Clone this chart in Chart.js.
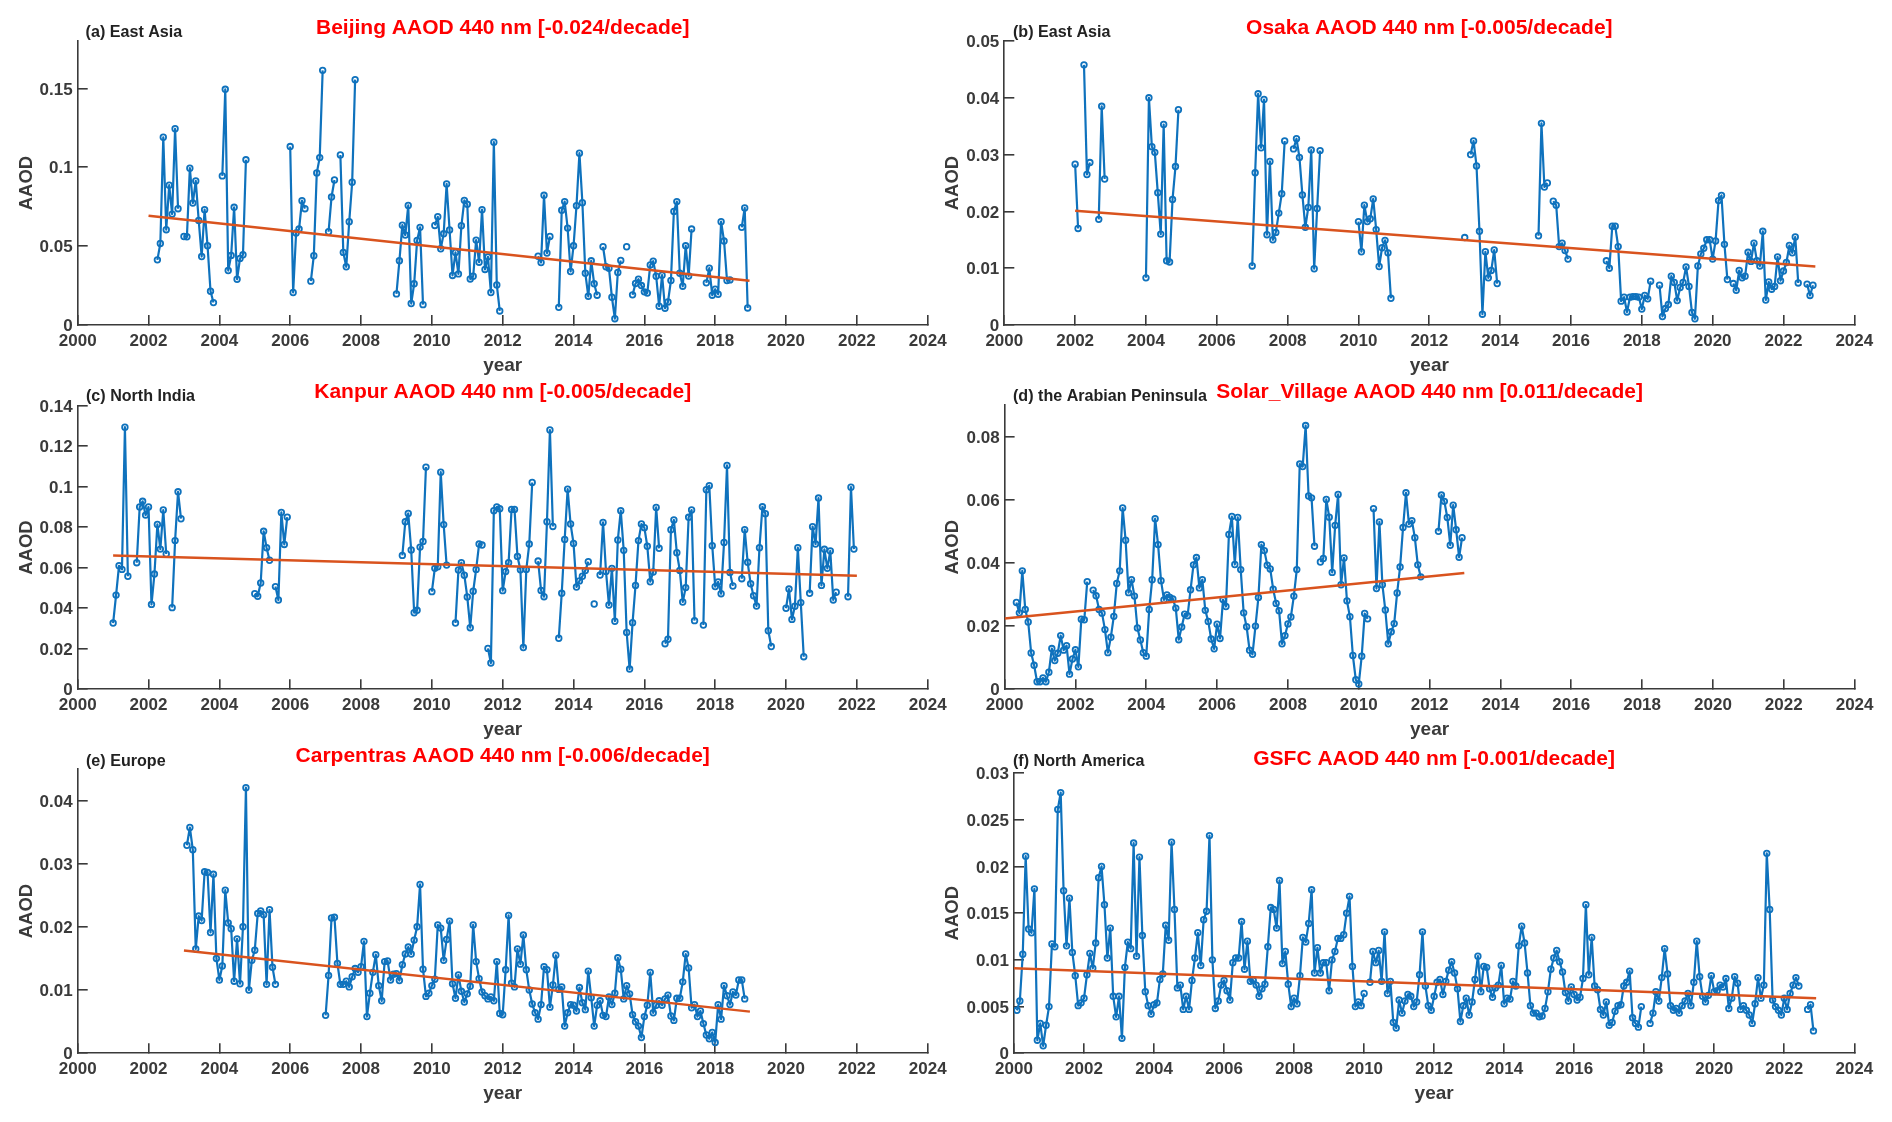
<!DOCTYPE html>
<html>
<head>
<meta charset="utf-8">
<title>AAOD 440 nm trends</title>
<script src="https://cdn.jsdelivr.net/npm/chart.js@4"></script>
<style>
  html, body { margin: 0; padding: 0; background: #fff; }
  canvas { position: absolute; }
</style>
</head>
<body>
<script>
/* monthly AAOD, one row per year, January first, null = no data */
const beijingStart = 2002;
const beijingValues = [
  null, null, null, .0413, .0517, .119, .0604, .0886, .0703, .1244, .0737, null,
  .0561, .0559, .0994, .0773, .0913, .0663, .0434, .0731, .0502, .0214, .0142, null,
  null, .0945, .1494, .0345, .0441, .0746, .029, .0422, .0445, .1047, null, null,
  null, null, null, null, null, null, null, null, null, null, null, null,
  .1131, .0206, .0583, .0608, .0788, .0737, null, .0278, .0439, .0964, .1061, .1614,
  null, .0591, .0811, .0919, null, .1078, .046, .0369, .0655, .0905, .1555, null,
  null, null, null, null, null, null, null, null, null, null, null, null,
  .0197, .0407, .0633, .057, .0758, .0136, .0261, .0536, .0619, .0129, null, null,
  null, .0631, .0686, .0483, .0578, .0894, .0602, .0314, .046, .0324, .0629, .079,
  .0765, .0292, .0309, .0538, .0398, .0731, .0352, .0432, .0206, .1159, .0254, .0089,
  null, null, null, null, null, null, null, null, null, null, null, null,
  .0436, .0396, .0822, .0456, .0561, null, null, .0112, .0727, .0782, .0614, .0339,
  .0502, .0756, .1089, .0775, .0328, .0182, .0407, .0261, .0189, null, .0496, .0369,
  .036, .0176, .004, .0333, .0409, null, .0496, null, .0191, .0263, .029, .025,
  .021, .0203, .0381, .0405, .0309, .0119, .0316, .0106, .0146, .0282, .072, .0782,
  .0328, .0246, .0502, .0311, .0608, null, null, null, null, .0267, .036, .0189,
  .0227, .0195, .0655, .0532, .0282, .0286, null, null, null, .0619, .0742, .0108
];
const beijingTrendX = [2002, 2018.97];
const beijingTrendY = [.0692, .028];
const beijingTicks = [0, 0.05, 0.1, 0.15];

const osakaStart = 2002;
const osakaValues = [
  .0283, .017, null, .0458, .0265, .0286, null, null, .0186, .0385, .0257, null,
  null, null, null, null, null, null, null, null, null, null, null, null,
  .0083, .04, .0314, .0304, .0233, .016, .0353, .0113, .0111, .0221, .0279, .0379,
  null, null, null, null, null, null, null, null, null, null, null, null,
  null, null, null, null, null, null, null, null, null, null, null, null,
  .0104, .0268, .0407, .0312, .0397, .0159, .0288, .015, .0163, .0197, .0231, .0324,
  null, null, .031, .0328, .0295, .0229, .0172, .0207, .0308, .0099, .0205, .0307,
  null, null, null, null, null, null, null, null, null, null, null, null,
  .0182, .0129, .0211, .0182, .0187, .0222, .0168, .0103, .0136, .0149, .0127, .0047,
  null, null, null, null, null, null, null, null, null, null, null, null,
  null, null, null, null, null, null, null, null, null, null, null, null,
  .0154, null, .03, .0324, .028, .0165, .0019, .0129, .0083, .0096, .0132, .0073,
  null, null, null, null, null, null, null, null, null, null, null, null,
  null, .0157, .0355, .0243, .025, null, .0218, .0211, .0138, .0144, .0131, .0116,
  null, null, null, null, null, null, null, null, null, null, null, null,
  .0113, .01, .0174, .0174, .0138, .0042, .0049, .0023, .0049, .005, .005, .0049,
  .0028, .0052, .0046, .0077, null, null, .007, .0015, .0029, .0036, .0086, .0075,
  .0043, .0066, .0075, .0102, .0068, .0022, .0011, .0104, .0125, .0135, .015, .015,
  .0116, .0148, .0219, .0228, .0142, .008, null, .0073, .0061, .0096, .0083, .0086,
  .0128, .0112, .0144, .0113, .0104, .0165, .0044, .0076, .0063, .0068, .012, .0078,
  .0095, .011, .014, .0127, .0155, .0074, null, null, .0072, .0052, .007
];
const osakaTrendX = [2002, 2022.9];
const osakaTrendY = [.0201, .0103];
const osakaTicks = [0, 0.01, 0.02, 0.03, 0.04, 0.05];

const kanpurStart = 2001;
const kanpurValues = [
  .0327, .0465, .061, .0592, .1294, .0558, null, null, .0625, .09, .0928, .086,
  .09, .0419, .0569, .0814, .0692, .0885, .0668, null, .0403, .0734, .0975, .0842,
  null, null, null, null, null, null, null, null, null, null, null, null,
  null, null, null, null, null, null, null, null, null, null, null, null,
  .0472, .0459, .0525, .078, .0699, .0637, null, .0507, .0441, .0873, .0715, .085,
  null, null, null, null, null, null, null, null, null, null, null, null,
  null, null, null, null, null, null, null, null, null, null, null, null,
  null, null, null, null, null, null, null, null, null, null, null, null,
  null, null, .0661, .0827, .0868, .0688, .0378, .039, .0702, .073, .1097, null,
  .0482, .0597, .0605, .1072, .0813, .0613, null, null, .0327, .0589, .0625, .0563,
  .0456, .0304, .0484, .0592, .0717, .0712, null, .0202, .013, .0882, .09, .0891,
  .0487, .0581, .0625, .0888, .0888, .0656, .059, .0206, .0592, .0717, .1021, null,
  .0633, .0488, .0457, .0827, .128, .0804, null, .0252, .0474, .074, .0988, .0816,
  .072, .0505, .0535, .0558, .0586, .063, null, .0421, null, .0564, .0824, .0582,
  .0416, .0597, .0336, .0737, .0882, .0686, .0281, .01, .0329, .0513, .0734, .0816,
  .0798, .0706, .0531, .0579, .0898, .0696, null, .0225, .0247, .0788, .0836, .0674,
  .0587, .0431, .0502, .0849, .0885, .0339, null, null, .0317, .0985, .1005, .0709,
  .0507, .053, .0472, .0725, .1105, .0577, .051, null, null, .0546, .0788, .0627,
  .0521, .0462, .0411, .0699, .0901, .0867, .0289, .0211, null, null, null, null,
  .04, .0495, .0345, .041, .0699, .0428, .0161, null, .0474, .0803, .0717, .0944,
  .0513, .0691, .0597, .0683, .0441, .0479, null, null, null, .0457, .0998, .0692
];
const kanpurTrendX = [2001, 2022];
const kanpurTrendY = [.066, .0561];
const kanpurTicks = [0, 0.02, 0.04, 0.06, 0.08, 0.1, 0.12, 0.14];

const solarStart = 2000;
const solarValues = [
  null, null, null, null, .0275, .0242, .0375, .0253, .0213, .0115, .0076, .0024,
  .0024, .0036, .0024, .0054, .0129, .0091, .0114, .017, .0124, .0138, .0048, .0096,
  .0125, .0071, .0222, .022, .0341, null, .0314, .0296, .0253, .0241, .0189, .0116,
  .0165, .0231, .0335, .0375, .0574, .0472, .0306, .0347, .0295, .0194, .0156, .0116,
  .0105, .0253, .0347, .054, .0458, .0344, .0283, .0299, .0291, .0286, .0257, .0157,
  .0197, .0238, .0233, .0315, .0394, .0417, .0321, .0347, .025, .0215, .0159, .0128,
  .0206, .0161, .0284, .0262, .049, .0547, .0395, .0544, .0379, .0242, .0198, .0124,
  .0111, .02, .0291, .0458, .0439, .0393, .0381, .0317, .0272, .0249, .0144, .017,
  .0207, .0229, .0295, .0379, .0713, .0705, .0835, .0612, .0606, .0453, null, .0403,
  .0414, .0601, .0545, .037, .0519, .0617, .0331, .0416, .028, .023, .0107, .003,
  .0017, .0105, .024, .0223, null, .0572, .0319, .053, .0331, .0251, .0144, .0182,
  .0208, .0305, .0387, .0512, .0622, .0523, .0534, .048, .0394, .0356, null, null,
  null, null, null, .05, .0615, .0595, .0544, .0456, .0583, .0505, .0418, .048
];
const solarTrendX = [2000, 2012.98];
const solarTrendY = [.0224, .0368];
const solarTicks = [0, 0.02, 0.04, 0.06, 0.08];

const carpentrasStart = 2003;
const carpentrasValues = [
  null, .0329, .0357, .0322, .0165, .0217, .021, .0287, .0286, .0191, .0283, .015,
  .0116, .0138, .0258, .0206, .0197, .0114, .0181, .011, .02, .042, .01, .0147,
  .0163, .0221, .0225, .0219, .0109, .0227, .0136, .0109, null, null, null, null,
  null, null, null, null, null, null, null, null, null, null, null, null,
  .006, .0123, .0214, .0215, .0142, .0109, .0109, .0114, .0105, .0121, .0134, .0128,
  .0137, .0177, .0058, .0095, .0128, .0156, .0107, .0083, .0145, .0146, .0116, .0125,
  .0126, .0115, .014, .0157, .0168, .0157, .0179, .02, .0267, .0133, .009, .0095,
  .0107, .0117, .0203, .0198, .0147, .018, .0209, .011, .0087, .0124, .0098, .0081,
  .0094, .0106, .0203, .0145, .0118, .0097, .0091, .0086, .0089, .0083, .0145, .0063,
  .0061, .0132, .0218, .0111, .0105, .0165, .0141, .0187, .0132, .01, .0078, .0064,
  .0054, .0077, .0137, .0132, .0073, .0108, .0155, .0101, .0105, .0043, .0064, .0077,
  .0076, .0067, .0104, .008, .0069, .013, .0088, .0043, .0076, .0083, .006, .0058,
  .0089, .0077, .0095, .0151, .0133, .0086, .0107, .0094, .0061, .005, .0043, .0025,
  .0058, .0076, .0128, .0064, .0076, .0083, .0076, .0086, .0092, .0059, .0052, .0087,
  .0087, .0113, .0157, .0135, .0072, .0077, .0058, .0067, .0047, .0029, .0023, .0033,
  .0017, .0077, .0054, .0107, .0091, .0077, .0097, .0092, .0116, .0116, .0086
];
const carpentrasTrendX = [2003, 2018.98];
const carpentrasTrendY = [.01626, .00659];
const carpentrasTicks = [0, 0.01, 0.02, 0.03, 0.04];

const gsfcStart = 2000;
const gsfcValues = [
  null, .0046, .0056, .0106, .0211, .0133, .0129, .0176, .0014, .0032, .0008, .003,
  .005, .0117, .0114, .0261, .0279, .0174, .0115, .0166, .0108, .0083, .0051, .0054,
  .0059, .0084, .0107, .0091, .0118, .0188, .02, .0159, .0102, .0134, .0061, .0039,
  .0061, .0016, .0092, .0119, .0112, .0225, .0104, .021, .0126, .0066, .0051, .0042,
  .0052, .0054, .0079, .0085, .0137, .0121, .0226, .0154, .007, .0073, .0047, .0061,
  .0047, .0078, .0102, .0129, .0094, .0143, .0152, .0233, .01, .0048, .0056, .0073,
  .0078, .0067, .0057, .0097, .0102, .0102, .0141, .009, .012, .0077, .0078, .0073,
  .0061, .0069, .0074, .0114, .0156, .0154, .0134, .0185, .0096, .0109, .0074, .005,
  .0059, .0053, .0083, .0124, .0119, .0139, .0175, .0086, .0113, .0086, .0097, .0097,
  .0067, .01, .0109, .0123, .0123, .0127, .015, .0168, .0093, .005, .0055, .0051,
  .0064, null, .0076, .0109, .0097, .011, .0077, .013, .0064, .0077, .0033, .0027,
  .0057, .0043, .0056, .0063, .0061, .005, .0055, .0084, .013, .0072, .0051, .0046,
  .0061, .0076, .0079, .0063, .0077, .0089, .0098, .0086, .0069, .0034, .0051, .0059,
  .0041, .0055, .0079, .0104, .0066, .0093, .0092, .0069, .006, .007, .0073, .0094,
  .0053, .0059, .0058, .0077, .0072, .0115, .0136, .0118, .0086, .0051, .0043, .0043,
  .0039, .004, .0048, .0066, .009, .0102, .011, .0098, .0087, .0065, .0056, .0071,
  .0063, .0057, .006, .008, .0159, .0084, .0124, .0072, .0068, .0047, .0041, .0055,
  .003, .0033, .0045, .0051, .0052, .0072, .0076, .0088, .0038, .0032, .0028, .005,
  null, null, .0032, .0043, .0066, .0056, .0081, .0112, .0085, .0051, .0046, .0048,
  .0043, .0051, .0056, .0064, .0051, .0076, .012, .0082, .0061, .0055, .0062, .0083,
  .0066, .0067, .0073, .0071, .008, .0048, .0059, .0082, .0075, .0047, .0051, .0046,
  .0041, .0032, .0053, .0081, .0059, .0073, .0214, .0154, .0057, .005, .0046, .0041,
  .0059, .0047, .0064, .0073, .0081, .0072, null, null, .0047, .0052, .0024
];
const gsfcTrendX = [2000, 2022.91];
const gsfcTrendY = [.0091, .00589];
const gsfcTicks = [0, 0.005, 0.01, 0.015, 0.02, 0.025, 0.03];

const yearTicks = [2000, 2002, 2004, 2006, 2008, 2010, 2012, 2014, 2016, 2018, 2020, 2022, 2024];

const FONT = '"Liberation Sans", Arial, sans-serif';
const INK = '#3a3a3a';
const LINE_BLUE = '#0f72bd';
const TREND_ORANGE = '#d9531e';

Chart.defaults.animation = false;
Chart.defaults.font.family = FONT;

// draws the "(a) East Asia" tag above each panel
const panelTag = {
  id: 'panelTag',
  afterDraw(chart, args, opts) {
    const ctx = chart.ctx;
    ctx.save();
    ctx.font = 'bold 16.1px ' + FONT;
    ctx.fillStyle = '#222';
    ctx.textBaseline = 'middle';
    ctx.fillText(opts.text, opts.x, opts.y);
    ctx.restore();
  },
};
Chart.register(panelTag);

function monthlyPoints(startYear, values) {
  return values.map((v, i) => ({ x: startYear + i / 12, y: v }));
}

function addPanel(p) {
  const canvas = document.createElement('canvas');
  const canvasTop = Math.round(p.titleY - 12.6);
  const canvasBottom = Math.ceil(p.bottom);
  const canvasHeight = canvasBottom + 52 - canvasTop;
  // wide right margin: the scale reserves room for half a label plus its padding
  const canvasWidth = Math.ceil(p.right + 60) - p.canvasLeft;
  canvas.width = canvasWidth;
  canvas.height = canvasHeight;
  canvas.style.left = p.canvasLeft + 'px';
  canvas.style.top = canvasTop + 'px';
  canvas.style.width = canvasWidth + 'px';
  canvas.style.height = canvasHeight + 'px';
  document.body.appendChild(canvas);

  return new Chart(canvas.getContext('2d'), {
    type: 'line',
    data: {
      datasets: [
        {
          data: p.trendX.map((x, i) => ({ x, y: p.trendY[i] })),
          borderColor: TREND_ORANGE,
          borderWidth: 2.5,
          pointRadius: 0,
        },
        {
          data: monthlyPoints(p.start, p.values),
          borderColor: LINE_BLUE,
          borderWidth: 2.2,
          borderJoinStyle: 'round',
          pointRadius: 2.8,
          pointBorderWidth: 1.8,
          pointBorderColor: LINE_BLUE,
          pointBackgroundColor: 'rgba(255,255,255,0)',
        },
      ],
    },
    options: {
      responsive: false,
      devicePixelRatio: 1,
      layout: {
        autoPadding: false,
        padding: { right: canvasWidth + p.canvasLeft - p.right, bottom: canvasBottom - p.bottom },
      },
      plugins: {
        legend: { display: false },
        tooltip: { enabled: false },
        title: {
          display: true,
          fullSize: false,
          text: p.title,
          color: '#ff0000',
          font: { size: 21, weight: 'bold' },
          padding: { top: 1.5, bottom: p.top - canvasTop - 26.7 },
        },
        panelTag: { text: p.tag, x: p.tagX - p.canvasLeft, y: p.tagY + 1.2 - canvasTop },
      },
      scales: {
        x: {
          type: 'linear',
          min: 2000,
          max: 2024,
          afterBuildTicks: scale => { scale.ticks = yearTicks.map(value => ({ value })); },
          afterFit: scale => { scale.height = 52; },
          border: { color: INK, width: 1.6 },
          grid: { drawOnChartArea: false, color: INK, lineWidth: 1.6, tickLength: -10 },
          ticks: {
            autoSkip: false,
            maxRotation: 0,
            padding: 16,
            color: INK,
            font: { size: 17, weight: 'bold' },
            callback: v => String(v),
          },
          title: {
            display: true,
            text: 'year',
            color: INK,
            font: { size: 19, weight: 'bold' },
            padding: { top: 0, bottom: 0 },
          },
        },
        y: {
          min: 0,
          max: p.yMax,
          afterBuildTicks: scale => { scale.ticks = p.ticks.map(value => ({ value })); },
          afterFit: scale => { scale.width = p.left - p.canvasLeft; },
          border: { color: INK, width: 1.6 },
          grid: { drawOnChartArea: false, color: INK, lineWidth: 1.6, tickLength: -10 },
          ticks: {
            autoSkip: false,
            padding: 15,
            labelOffset: 1.5,
            color: INK,
            font: { size: 17, weight: 'bold' },
            callback: v => String(v),
          },
          title: {
            display: true,
            text: 'AAOD',
            color: INK,
            font: { size: 18.5, weight: 'bold' },
            padding: { top: 16, bottom: 0 },
          },
        },
      },
    },
  });
}

addPanel({
  title: 'Beijing AAOD 440 nm [-0.024/decade]', tag: '(a) East Asia',
  start: beijingStart, values: beijingValues, trendX: beijingTrendX, trendY: beijingTrendY,
  ticks: beijingTicks, yMax: 0.18,
  canvasLeft: 0, left: 77.7, right: 927.7, top: 41, bottom: 325, titleY: 27, tagX: 85.6, tagY: 31,
});
addPanel({
  title: 'Osaka AAOD 440 nm [-0.005/decade]', tag: '(b) East Asia',
  start: osakaStart, values: osakaValues, trendX: osakaTrendX, trendY: osakaTrendY,
  ticks: osakaTicks, yMax: 0.05,
  canvasLeft: 926, left: 1004.3, right: 1854.3, top: 41, bottom: 325, titleY: 27, tagX: 1013, tagY: 31,
});
addPanel({
  title: 'Kanpur AAOD 440 nm [-0.005/decade]', tag: '(c) North India',
  start: kanpurStart, values: kanpurValues, trendX: kanpurTrendX, trendY: kanpurTrendY,
  ticks: kanpurTicks, yMax: 0.14,
  canvasLeft: 0, left: 77.7, right: 927.7, top: 405.7, bottom: 689.3, titleY: 391, tagX: 86, tagY: 395,
});
addPanel({
  title: 'Solar_Village AAOD 440 nm [0.011/decade]', tag: '(d) the Arabian Peninsula',
  start: solarStart, values: solarValues, trendX: solarTrendX, trendY: solarTrendY,
  ticks: solarTicks, yMax: 0.09,
  canvasLeft: 926, left: 1004.6, right: 1854.6, top: 405, bottom: 689.3, titleY: 391, tagX: 1013, tagY: 395,
});
addPanel({
  title: 'Carpentras AAOD 440 nm [-0.006/decade]', tag: '(e) Europe',
  start: carpentrasStart, values: carpentrasValues, trendX: carpentrasTrendX, trendY: carpentrasTrendY,
  ticks: carpentrasTicks, yMax: 0.045,
  canvasLeft: 0, left: 77.7, right: 927.7, top: 768.7, bottom: 1053.3, titleY: 755, tagX: 86, tagY: 760,
});
addPanel({
  title: 'GSFC AAOD 440 nm [-0.001/decade]', tag: '(f) North America',
  start: gsfcStart, values: gsfcValues, trendX: gsfcTrendX, trendY: gsfcTrendY,
  ticks: gsfcTicks, yMax: 0.03,
  canvasLeft: 926, left: 1014, right: 1854.3, top: 773, bottom: 1053.3, titleY: 758, tagX: 1013, tagY: 760,
});
</script>
</body>
</html>
